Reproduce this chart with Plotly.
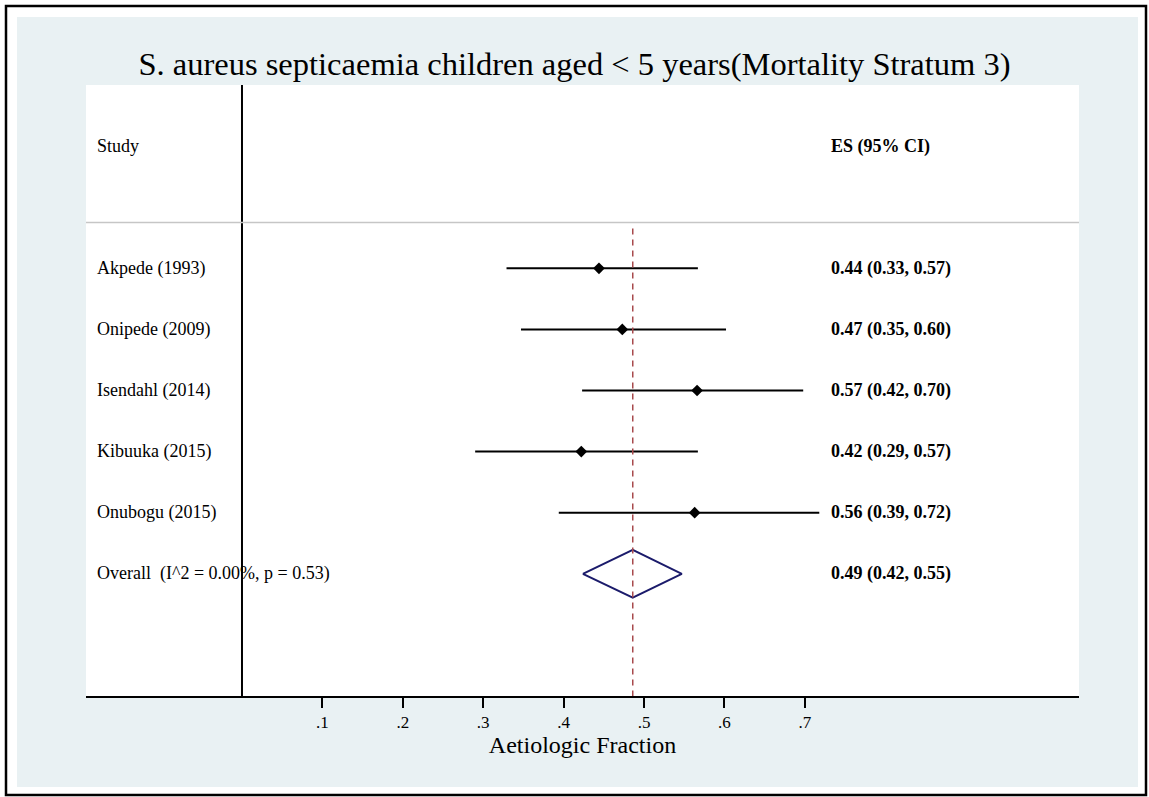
import plotly.graph_objects as go

# Study-level estimates (aetiologic fraction with 95% CI)
studies = ["Akpede (1993)", "Onipede (2009)", "Isendahl (2014)", "Kibuuka (2015)", "Onubogu (2015)"]
es = [0.444, 0.473, 0.566, 0.422, 0.563]
ci_lo = [0.329, 0.347, 0.423, 0.290, 0.394]
ci_hi = [0.567, 0.602, 0.698, 0.567, 0.718]

# Pooled estimate and heterogeneity
overall_es = 0.486
overall_lo = 0.424
overall_hi = 0.547
i_squared = 0.00
p_het = 0.53

tick_vals = [0.1, 0.2, 0.3, 0.4, 0.5, 0.6, 0.7]
tick_text = [".1", ".2", ".3", ".4", ".5", ".6", ".7"]

TITLE = "S. aureus septicaemia children aged < 5 years(Mortality Stratum 3)"
X_TITLE = "Aetiologic Fraction"

W, H = 1149, 797
ML, MR, MT, MB = 86, 70, 85, 101
X_RANGE = [-0.194, 1.041]
Y_RANGE = [8, -2]
FONT = "Liberation Serif"
BG = "#E9F1F3"

rows = list(range(1, len(studies) + 1))
overall_row = len(studies) + 1

fig = go.Figure()

# confidence interval whiskers
cx, cy = [], []
for r, lo, hi in zip(rows, ci_lo, ci_hi):
    cx += [lo, hi, None]
    cy += [r, r, None]
fig.add_trace(go.Scatter(x=cx, y=cy, mode="lines",
                         line=dict(color="black", width=2), hoverinfo="skip"))

# point estimates
fig.add_trace(go.Scatter(x=es, y=rows, mode="markers",
                         marker=dict(symbol="diamond", size=9, color="black")))

# pooled diamond
half_h = 0.39
fig.add_trace(go.Scatter(
    x=[overall_lo, overall_es, overall_hi, overall_es, overall_lo],
    y=[overall_row, overall_row - half_h, overall_row, overall_row + half_h, overall_row],
    mode="lines", line=dict(color="#1B1B6B", width=2)))

# pooled estimate reference line
fig.add_trace(go.Scatter(x=[overall_es, overall_es], y=[0.35, Y_RANGE[0]], mode="lines",
                         line=dict(color="#A84A4D", width=1.5, dash="6px,5px")))

# null line at zero
fig.add_trace(go.Scatter(x=[0, 0], y=[Y_RANGE[1], Y_RANGE[0]], mode="lines",
                         line=dict(color="black", width=2)))

# header separator
fig.add_trace(go.Scatter(x=[X_RANGE[0], X_RANGE[1]], y=[0.25, 0.25], mode="lines",
                         line=dict(color="#C6C6C6", width=1.5)))

left_x = -0.1825
right_x = 0.7305
txt = dict(family=FONT, size=18, color="black")

annotations = [
    dict(x=left_x, y=-1, text="Study", xanchor="left"),
    dict(x=right_x, y=-1, text="<b>ES (95% CI)</b>", xanchor="left"),
]
for r, name, e, lo, hi in zip(rows, studies, es, ci_lo, ci_hi):
    annotations.append(dict(x=left_x, y=r, text=name, xanchor="left"))
    annotations.append(dict(x=right_x, y=r, text=f"<b>{e:.2f} ({lo:.2f}, {hi:.2f})</b>",
                            xanchor="left"))
annotations.append(dict(x=left_x, y=overall_row,
                        text=f"Overall\u00a0\u00a0(I^2 = {i_squared:.2f}%, p = {p_het:.2f})",
                        xanchor="left"))
annotations.append(dict(x=right_x, y=overall_row,
                        text=f"<b>{overall_es:.2f} ({overall_lo:.2f}, {overall_hi:.2f})</b>",
                        xanchor="left"))
for a in annotations:
    a.update(xref="x", yref="y", showarrow=False, yanchor="middle", font=txt)


def px_x(p):
    return (p - ML) / (W - ML - MR)


def px_y(p):
    return (H - MB - p) / (H - MT - MB)


shapes = []
# white page frame around the tinted graph region
for x0, y0, x1, y1 in [(0, 0, W, 17), (0, 787, W, H), (0, 0, 17, H), (1138, 0, W, H)]:
    shapes.append(dict(type="rect", xref="paper", yref="paper",
                       x0=px_x(x0), x1=px_x(x1), y0=px_y(y1), y1=px_y(y0),
                       fillcolor="white", line=dict(width=0), layer="above"))
shapes.append(dict(type="rect", xref="paper", yref="paper",
                   x0=px_x(6), x1=px_x(1146), y0=px_y(795), y1=px_y(6),
                   fillcolor="rgba(0,0,0,0)", line=dict(color="black", width=2.5), layer="above"))

fig.update_layout(
    width=W, height=H,
    margin=dict(l=ML, r=MR, t=MT, b=MB, pad=0),
    paper_bgcolor=BG, plot_bgcolor="white",
    showlegend=False,
    title=dict(text=TITLE, x=0.5, xref="container", xanchor="center",
               y=1 - 64 / H, yref="container", yanchor="middle",
               font=dict(family=FONT, size=32.5, color="black")),
    annotations=annotations,
    shapes=shapes,
    xaxis=dict(range=X_RANGE, tickvals=tick_vals, ticktext=tick_text,
               showgrid=False, zeroline=False, showline=True, linecolor="black",
               linewidth=1.5, ticks="outside", ticklen=10, tickwidth=1.5,
               tickcolor="black", tickfont=dict(family=FONT, size=17, color="black"),
               title=dict(text=X_TITLE, standoff=0,
                          font=dict(family=FONT, size=24, color="black"))),
    yaxis=dict(range=Y_RANGE, showgrid=False, zeroline=False, showline=False,
               showticklabels=False, ticks=""),
)

fig.write_html("out.html")
